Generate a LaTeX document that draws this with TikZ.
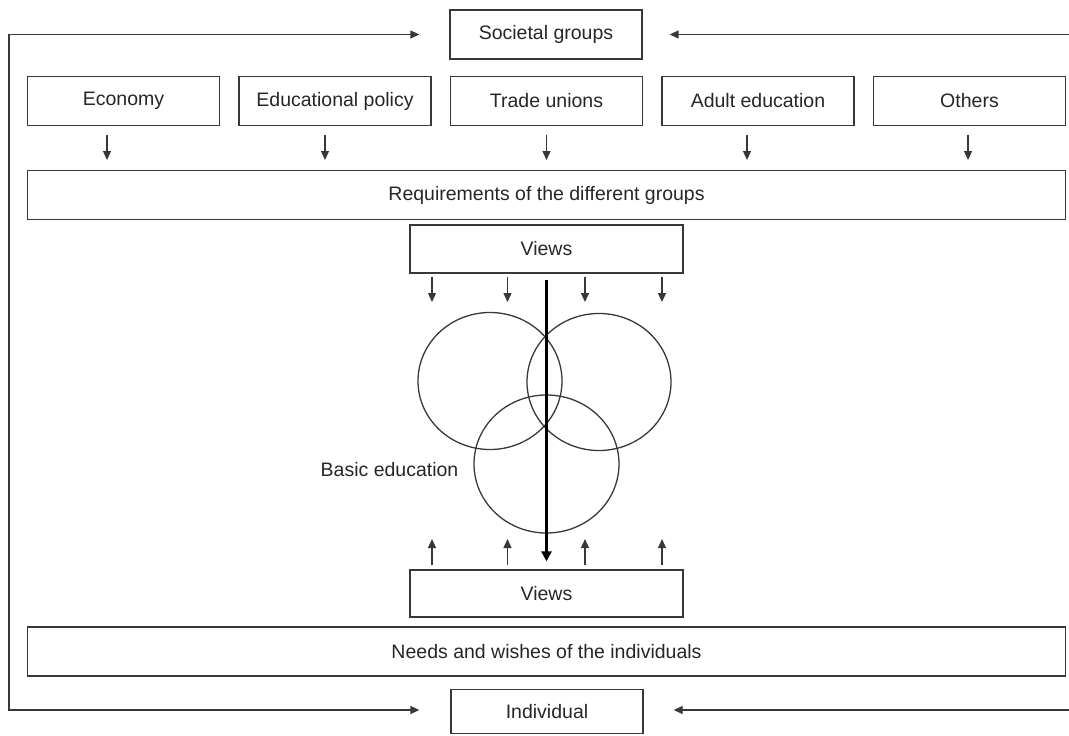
\documentclass[tikz,border=0pt]{standalone}
\usepackage{fontspec}
\setmainfont{Liberation Sans}
\usetikzlibrary{arrows.meta,shapes.geometric}

\begin{document}
\begin{tikzpicture}[x=1pt,y=-1pt,line width=1.3pt,color=black!78,
	>={Triangle[length=9pt,width=8pt]},
	grp/.style={shape=rectangle,draw,inner sep=0pt,minimum width=192pt,minimum height=49pt,
		font=\fontsize{19.5pt}{23pt}\selectfont,text=black!85},
	wide/.style={grp,minimum width=1038pt},
	ring/.style={shape=ellipse,draw,inner sep=0pt,minimum width=144pt,minimum height=137pt}]
					\useasboundingbox (0,0) rectangle (1069,736);
					\node (soc) [grp] at (546,34.5) {Societal groups};
					\node (econ) [grp] at (123.5,101) {Economy};
					\node (edu) [grp] at (335,101) {Educational policy};
					\node (trade) [grp] at (546.5,101) {Trade unions};
					\node (adult) [grp] at (758,101) {Adult education};
					\node (others) [grp] at (969.5,101) {Others};
					\node (req) [wide] at (546.5,195) {Requirements of the different groups};
					\node (vtop) [grp,minimum width=273pt,minimum height=48pt] at (546.5,249) {Views};
					\node (left) [ring] at (490,381) {};
					\node (right) [ring] at (599,382) {};
					\node (bottom) [ring,minimum width=145pt,minimum height=138pt] at (546.5,464) {};
					\node (basic) [anchor=base east,inner sep=0pt,text=black!85,
						font=\fontsize{19.5pt}{23pt}\selectfont] at (459,476) {Basic education};
					\node (vbot) [grp,minimum width=273pt,minimum height=47pt] at (546.5,593.5) {Views};
					\node (needs) [wide] at (546.5,651.5) {Needs and wishes of the individuals};
					\node (ind) [grp,minimum height=44pt] at (547,711.5) {Individual};

					\coordinate (lt) at (9,34.5);
					\coordinate (lb) at (9,710);
					\coordinate (rt) at (1069,34.5);
					\coordinate (rb) at (1069,710);
					\draw[<->,shorten <=30pt,shorten >=31pt] (soc.west) -- (lt) -- (lb) -- (ind.west |- lb);
					\draw[->,shorten >=27pt] (rt) -- (soc.east);
					\draw[->,shorten >=30pt] (rb) -- (ind.east |- rb);

					\foreach \n/\x in {econ/107,edu/325,trade/546.5,adult/747,others/968}{
						\coordinate (r) at (\x,160);
						\draw[->,shorten <=8.5pt] (\n.south -| r) -- (r);
					}
					\foreach \x in {432,507.5,585,662}{
						\coordinate (d) at (\x,302);
						\draw[->,shorten <=3pt] (vtop.south -| d) -- (d);
						\coordinate (u) at (\x,539);
						\draw[->,shorten <=4pt] (vbot.north -| u) -- (u);
					}
					\draw[black,line width=2.8pt,-{Triangle[length=10pt,width=10pt]},shorten <=6pt,shorten >=8pt] (vtop.south) -- (vbot.north);
				\end{tikzpicture}
\end{document}
